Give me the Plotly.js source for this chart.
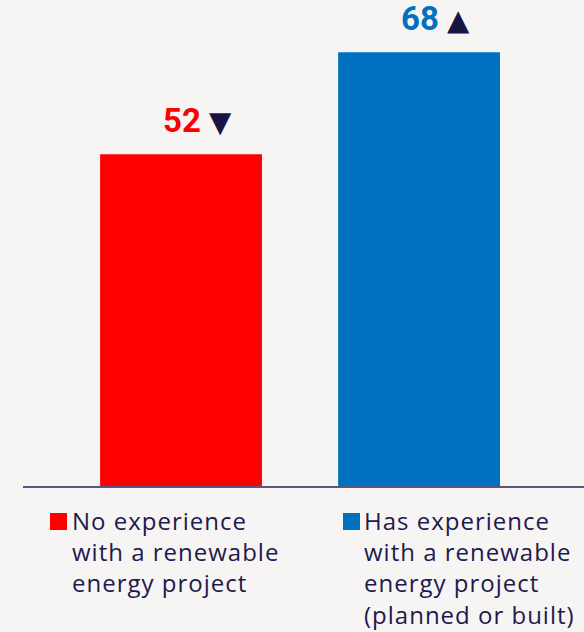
<!DOCTYPE html>
<html>
<head>
<meta charset="utf-8">
<script src="https://cdn.plot.ly/plotly-3.0.1.min.js"></script>
<style>html,body{margin:0;padding:0;background:#f7f5f3;}#chart{width:584px;height:632px;}</style>
</head>
<body>
<div id="chart"></div>
<script>
var categories = ["No experience<br>with a renewable<br>energy project", "Has experience<br>with a renewable<br>energy project<br>(planned or built)"];
var values = [52, 68];
var arrows = ["▼", "▲"];
var colors = ["#ff0000", "#0070c0"];

var xs = [0, 1];
var traces = categories.map(function(c, i) {
  return {
    type: "bar",
    x: [xs[i]],
    y: [values[i]],
    name: c,
    width: 0.68,
    marker: {color: colors[i]},
    hoverinfo: "skip",
    showlegend: false
  };
});

var annotations = [];
var shapes = [];
var legendX = [0.0875, 0.608];
values.forEach(function(v, i) {
  annotations.push({
    x: xs[i], y: v, xref: "x", yref: "y",
    xanchor: "center", yanchor: "bottom",
    xshift: 16, yshift: 12,
    showarrow: false,
    text: "<b>" + v + "</b> <span style='color:#1a1446;font-family:DejaVu Sans;font-size:29px'>" + arrows[i] + "</span>",
    font: {family: "Roboto, Lato, sans-serif", size: 33, color: colors[i]}
  });
  annotations.push({
    x: legendX[i], y: -0.038, xref: "paper", yref: "paper",
    xanchor: "left", yanchor: "top", align: "left",
    showarrow: false, borderpad: 0, borderwidth: 0,
    text: categories[i],
    font: {family: "Open Sans, sans-serif", size: 24, color: "#1e1a4d"}
  });
});

var layout = {
  width: 584, height: 632,
  margin: {l: 23, r: 0, t: 0, b: 146, pad: 0},
  paper_bgcolor: "#f7f5f3",
  plot_bgcolor: "#f7f5f3",
  showlegend: false,
  xaxis: {range: [-0.664, 1.693], showline: true, linecolor: "#5b5580", linewidth: 2,
          showticklabels: false, ticks: "", showgrid: false, zeroline: false, fixedrange: true},
  yaxis: {range: [0, 76.2], visible: false, showgrid: false, zeroline: false, fixedrange: true},
  annotations: annotations,
  shapes: shapes
};

// legend squares
var sqX = [50, 343];
sqX.forEach(function(px, i) {
  layout.shapes.push({
    type: "rect", xref: "paper", yref: "paper",
    x0: (px - 23) / 561, x1: (px - 23 + 17) / 561,
    y0: -(513 - 486) / 486, y1: -(530 - 486) / 486,
    fillcolor: colors[i], line: {width: 0}
  });
});

Plotly.newPlot("chart", traces, layout, {displayModeBar: false, staticPlot: true}).then(function(gd) {
  var texts = gd.querySelectorAll(".annotation-text");
  texts.forEach(function(t) {
    if (t.textContent.indexOf("experience") >= 0) t.style.letterSpacing = "1px";
  });
});
</script>
</body>
</html>
